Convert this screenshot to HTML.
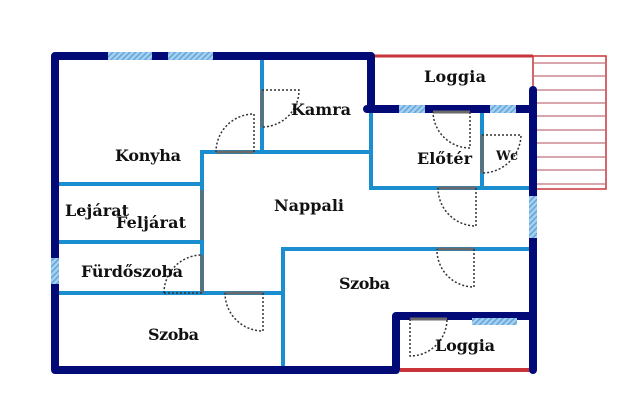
<!DOCTYPE html>
<html><head><meta charset="utf-8"><style>
html,body{margin:0;padding:0;background:#fff;width:640px;height:405px;overflow:hidden}
text{font-family:"DejaVu Serif","Liberation Serif",serif;font-weight:bold;font-size:16px;fill:#111}
</style></head><body>
<svg width="640" height="405" viewBox="0 0 640 405" xmlns="http://www.w3.org/2000/svg">
<defs>
<pattern id="h" width="4" height="4" patternUnits="userSpaceOnUse" patternTransform="rotate(45)">
<rect width="4" height="4" fill="#a8cfee"/><rect width="1.5" height="4" fill="#5fa7dc"/>
</pattern>
</defs>
<line x1="371" y1="56" x2="533" y2="56" stroke="#c8343a" stroke-width="3"/>
<rect x="533" y="56" width="73" height="133" fill="none" stroke="#c8343a" stroke-width="1.5"/>
<g stroke="#c0707a" stroke-width="1.2">
<line x1="533" y1="63" x2="606" y2="63"/><line x1="533" y1="76" x2="606" y2="76"/><line x1="533" y1="90" x2="606" y2="90"/><line x1="533" y1="103" x2="606" y2="103"/><line x1="533" y1="116" x2="606" y2="116"/><line x1="533" y1="130" x2="606" y2="130"/><line x1="533" y1="143" x2="606" y2="143"/><line x1="533" y1="157" x2="606" y2="157"/><line x1="533" y1="170" x2="606" y2="170"/><line x1="533" y1="184" x2="606" y2="184"/>
</g>
<line x1="400" y1="370" x2="532" y2="370" stroke="#c8343a" stroke-width="4"/>
<g stroke="#1b8ed0" stroke-width="4" fill="none">
<line x1="262" y1="58" x2="262" y2="152"/>
<line x1="200" y1="152" x2="371" y2="152"/>
<line x1="202" y1="150" x2="202" y2="295"/>
<line x1="58" y1="184" x2="202" y2="184"/>
<line x1="58" y1="242" x2="202" y2="242"/>
<line x1="58" y1="293" x2="283" y2="293"/>
<line x1="283" y1="247" x2="283" y2="367"/>
<line x1="281" y1="249" x2="531" y2="249"/>
<line x1="371" y1="110" x2="371" y2="190"/>
<line x1="369" y1="188" x2="531" y2="188"/>
<line x1="482" y1="110" x2="482" y2="188"/>
</g>
<g stroke="#020a78" stroke-width="8" fill="none" stroke-linejoin="round" stroke-linecap="round">
<polyline points="371,109 371,56 55,56 55,370 396,370 396,316 533,316"/>
<line x1="367" y1="109" x2="533" y2="109"/>
<line x1="533" y1="90" x2="533" y2="196"/>
<line x1="533" y1="238" x2="533" y2="370"/>
</g>
<rect x="108" y="52" width="44" height="8" fill="url(#h)"/>
<rect x="168" y="52" width="45" height="8" fill="url(#h)"/>
<rect x="51" y="258" width="8" height="26" fill="url(#h)"/>
<rect x="399" y="105" width="26" height="8" fill="url(#h)"/>
<rect x="490" y="105" width="26" height="8" fill="url(#h)"/>
<rect x="529" y="196" width="8" height="42" fill="url(#h)"/>
<rect x="472" y="318" width="45" height="7" fill="url(#h)"/>
<g stroke="#6a6a6a" stroke-width="3">
<line x1="216" y1="152" x2="254" y2="152"/>
<line x1="262" y1="90" x2="262" y2="127"/>
<line x1="433" y1="112" x2="470" y2="112"/>
<line x1="482" y1="135" x2="482" y2="173"/>
<line x1="438" y1="188" x2="476" y2="188"/>
<line x1="437" y1="249" x2="474" y2="249"/>
<line x1="225" y1="293" x2="263" y2="293"/>
<line x1="410" y1="319" x2="447" y2="319"/>
<line x1="202" y1="190" x2="202" y2="240"/>
<line x1="202" y1="255" x2="202" y2="293"/>
</g>
<g stroke="#333" stroke-width="1.5" stroke-dasharray="2,2" fill="none">
<path d="M254,152 L254,114 A38,38 0 0 0 216,152"/>
<path d="M262,90 L299,90 A37,37 0 0 1 262,127"/>
<path d="M470,112 L470,148 A37,37 0 0 1 433,112"/>
<path d="M482,135 L521,135 A39,39 0 0 1 482,173"/>
<path d="M476,188 L476,226 A38,38 0 0 1 438,188"/>
<path d="M474,249 L474,287 A37,37 0 0 1 437,249"/>
<path d="M263,293 L263,331 A38,38 0 0 1 225,293"/>
<path d="M410,319 L410,356 A37,37 0 0 0 447,319"/>
<path d="M164,293 L202,293 M164,293 A38,38 0 0 1 202,255"/>
</g>
<text x="115" y="161" textLength="66">Konyha</text>
<text x="291" y="115" textLength="60">Kamra</text>
<text x="274" y="211" textLength="70">Nappali</text>
<text x="65" y="216" textLength="64">Lejárat</text>
<text x="116" y="228" textLength="70">Feljárat</text>
<text x="81" y="277" textLength="102">Fürdőszoba</text>
<text x="148" y="340" textLength="51">Szoba</text>
<text x="339" y="289" textLength="51">Szoba</text>
<text x="424" y="82" textLength="62">Loggia</text>
<text x="417" y="164" textLength="55">Előtér</text>
<text x="496" y="160" textLength="22" style="font-size:13px">Wc</text>
<text x="435" y="351" textLength="60">Loggia</text>
</svg>
</body></html>
